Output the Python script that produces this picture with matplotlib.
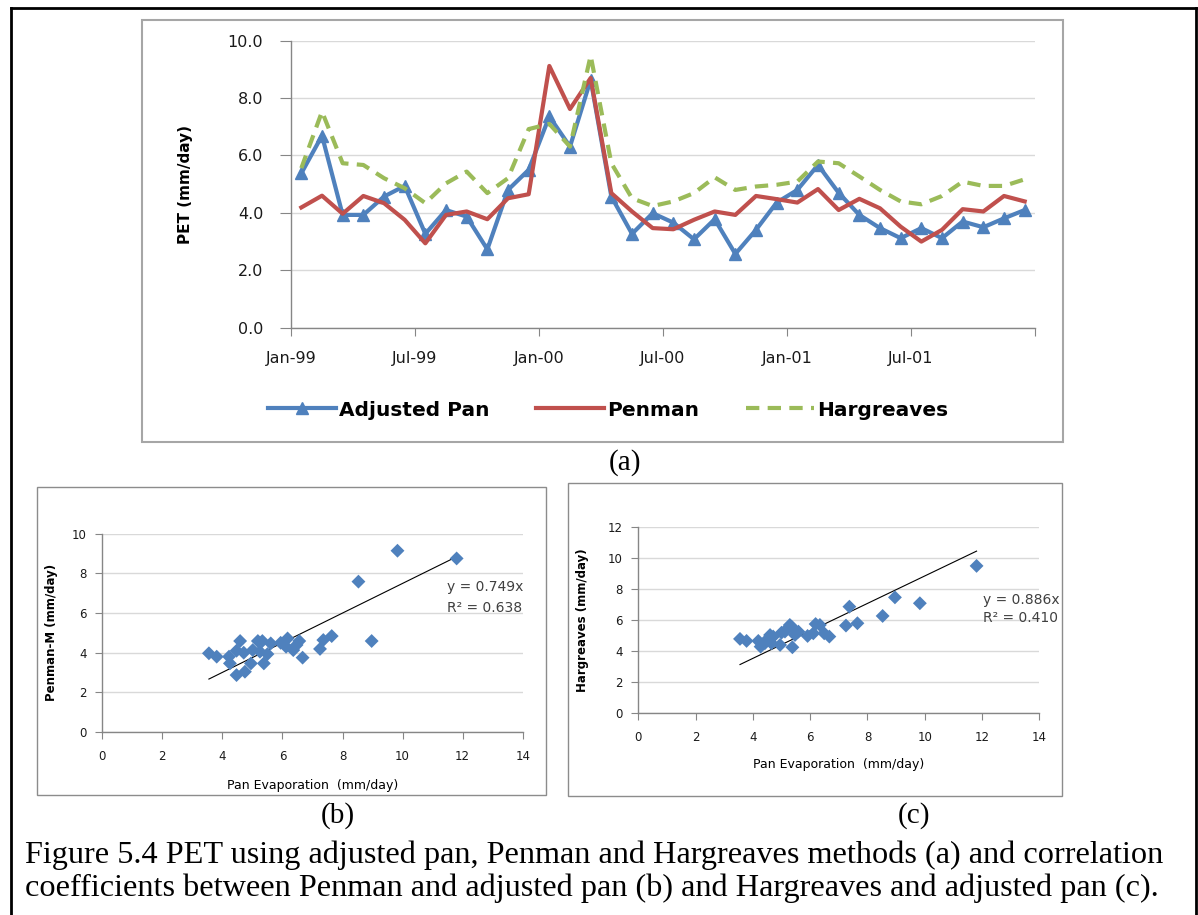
import numpy as np
import matplotlib
matplotlib.use("Agg")
import matplotlib.pyplot as plt
from matplotlib.lines import Line2D
from matplotlib.patches import Rectangle

W, H = 1198, 915

# (a) monthly PET, Jan-1999 .. Dec-2001
month_labels = ["Jan-99", "Jul-99", "Jan-00", "Jul-00", "Jan-01", "Jul-01", ""]
adjusted_pan = [5.38, 6.69, 3.93, 3.93, 4.57, 4.94, 3.27, 4.10, 3.87, 2.73, 4.80, 5.50,
                7.36, 6.31, 8.64, 4.57, 3.27, 3.99, 3.66, 3.08, 3.78, 2.57, 3.41, 4.36,
                4.80, 5.67, 4.70, 3.93, 3.47, 3.12, 3.47, 3.12, 3.70, 3.50, 3.81, 4.10]
penman = [4.19, 4.60, 3.97, 4.59, 4.34, 3.76, 2.94, 3.93, 4.05, 3.78, 4.51, 4.65,
          9.12, 7.62, 8.70, 4.69, 4.05, 3.47, 3.43, 3.76, 4.05, 3.93, 4.59, 4.48,
          4.36, 4.83, 4.10, 4.49, 4.16, 3.52, 3.00, 3.41, 4.13, 4.05, 4.59, 4.40]
hargreaves = [5.56, 7.53, 5.73, 5.67, 5.21, 4.86, 4.34, 5.03, 5.44, 4.69, 5.21, 6.92,
              7.10, 6.31, 9.48, 5.73, 4.51, 4.24, 4.40, 4.69, 5.24, 4.80, 4.92, 4.98,
              5.09, 5.79, 5.73, 5.27, 4.80, 4.40, 4.30, 4.59, 5.09, 4.94, 4.94, 5.17]

# (b) pan evaporation vs Penman-M
pan_b = [3.55, 3.81, 4.22, 4.25, 4.47, 4.47, 4.59, 4.75, 4.71, 4.95, 5.01, 5.18, 5.25,
         5.33, 5.38, 5.50, 5.61, 5.94, 6.12, 6.17, 6.36, 6.47, 6.56, 6.67, 7.25, 7.36,
         7.64, 8.53, 8.97, 9.83, 11.80]
penman_b = [3.96, 3.79, 3.79, 3.45, 2.86, 4.09, 4.58, 3.03, 3.99, 3.45, 4.12, 4.58, 4.04,
            4.58, 3.45, 3.92, 4.46, 4.49, 4.29, 4.71, 4.12, 4.38, 4.58, 3.74, 4.18, 4.63,
            4.83, 7.58, 4.58, 9.14, 8.75]
slope_b, r2_b = 0.749, 0.638

# (c) pan evaporation vs Hargreaves
pan_c = [3.55, 3.78, 4.19, 4.27, 4.42, 4.54, 4.60, 4.65, 4.71, 4.95, 5.00, 5.12, 5.21,
         5.29, 5.38, 5.35, 5.47, 5.59, 5.91, 6.11, 6.19, 6.34, 6.49, 6.67, 7.25, 7.37,
         7.65, 8.53, 8.96, 9.83, 11.81]
harg_c = [4.80, 4.67, 4.67, 4.30, 4.52, 4.84, 5.05, 4.52, 4.95, 4.41, 5.20, 5.27, 5.48,
          5.70, 4.26, 5.59, 5.05, 5.27, 4.99, 5.16, 5.76, 5.70, 5.16, 4.95, 5.66, 6.88,
          5.81, 6.28, 7.48, 7.10, 9.51]
slope_c, r2_c = 0.886, 0.410

BLUE, RED, GREEN = "#4F81BD", "#C0504D", "#9BBB59"
AXIS_GRAY = "#868686"
GRID_GRAY = "#D9D9D9"


def rect(x0, y0, x1, y1):
    # pixel box (top-left origin) -> figure fraction rect
    return [x0 / W, 1 - y1 / H, (x1 - x0) / W, (y1 - y0) / H]


def box(fig, x0, y0, x1, y1, color, lw):
    fig.add_artist(Rectangle((x0 / W, 1 - y1 / H), (x1 - x0) / W, (y1 - y0) / H,
                             transform=fig.transFigure, fill=False,
                             edgecolor=color, linewidth=lw))


def style_axes(ax):
    for side in ["top", "right"]:
        ax.spines[side].set_visible(False)
    for side in ["left", "bottom"]:
        ax.spines[side].set_color(AXIS_GRAY)
        ax.spines[side].set_linewidth(1.0)
    ax.yaxis.grid(True, color=GRID_GRAY, linewidth=1.0)
    ax.set_axisbelow(True)
    ax.tick_params(colors=AXIS_GRAY, labelcolor="#1a1a1a")


fig = plt.figure(figsize=(W / 100, H / 100), dpi=100)

# outer page border (open at the bottom)
for xs, ys in [([11, 11], [8, H]), ([11, 1196], [8, 8]), ([1196, 1196], [8, H])]:
    fig.add_artist(Line2D([x / W for x in xs], [1 - y / H for y in ys],
                          transform=fig.transFigure, color="black", linewidth=2.0))

# ---------- (a) time series ----------
box(fig, 142, 20, 1063, 442, "#A6A6A6", 1.5)
ax = fig.add_axes(rect(291, 40.7, 1035, 327.7))
months = np.arange(len(adjusted_pan))
ax.plot(months, adjusted_pan, color=BLUE, linewidth=3, marker="^", markersize=8,
        label="Adjusted Pan")
ax.plot(months, penman, color=RED, linewidth=3, label="Penman")
ax.plot(months, hargreaves, color=GREEN, linewidth=3, linestyle=(0, (3.2, 2.0)),
        label="Hargreaves")
ax.set_xlim(-0.5, 35.5)
ax.set_ylim(0, 10)
ax.set_xticks(np.arange(-0.5, 36, 6))
ax.set_xticklabels(month_labels)
ax.set_yticks(np.arange(0, 10.1, 2))
ax.set_yticklabels([f"{v:.1f}" for v in np.arange(0, 10.1, 2)])
style_axes(ax)
ax.tick_params(axis="y", length=8, pad=12, labelsize=11.5)
ax.tick_params(axis="x", length=6, pad=11, labelsize=11.5)
ax.set_ylabel("PET (mm/day)", fontsize=11, fontweight="bold")
ax.yaxis.set_label_coords(-0.132, 0.5)
fig.legend(loc="center", bbox_to_anchor=(608 / W, 1 - 410 / H), ncol=3,
           frameon=False, handlelength=3.4, handletextpad=0.15, columnspacing=2.3,
           prop={"weight": "bold", "size": 14.5})
fig.text(625 / W, 1 - 463 / H, "(a)", ha="center", va="center",
         family="Liberation Serif", fontsize=21)

# ---------- (b) and (c) scatter plots ----------
panels = [
    dict(box=(37, 487, 546, 795), area=(102.3, 533.7, 522.7, 731.7), x=pan_b, y=penman_b,
         slope=slope_b, r2=r2_b, ymax=10, ylabel="Penman-M (mm/day)",
         eq=(447, 587, 608), tag=(338, 816), label="(b)"),
    dict(box=(568, 483, 1062, 796), area=(638.3, 527.3, 1039.3, 713.3), x=pan_c, y=harg_c,
         slope=slope_c, r2=r2_c, ymax=12, ylabel="Hargreaves (mm/day)",
         eq=(983, 600, 618), tag=(914, 816), label="(c)"),
]
for p in panels:
    box(fig, *p["box"], "#8C8C8C", 1.0)
    sx = fig.add_axes(rect(*p["area"]))
    sx.scatter(p["x"], p["y"], marker="D", s=50, color=BLUE, edgecolors="none", zorder=3)
    fit_x = np.array([min(p["x"]), max(p["x"])])
    sx.plot(fit_x, p["slope"] * fit_x, color="black", linewidth=0.8, zorder=2)
    sx.set_xlim(0, 14)
    sx.set_ylim(0, p["ymax"])
    sx.set_xticks(np.arange(0, 15, 2))
    sx.set_yticks(np.arange(0, p["ymax"] + 1, 2))
    style_axes(sx)
    sx.tick_params(axis="y", length=5, pad=6, labelsize=8.5)
    sx.tick_params(axis="x", length=5, pad=8, labelsize=8.5)
    sx.set_xlabel("Pan Evaporation  (mm/day)", fontsize=9)
    sx.xaxis.set_label_coords(0.5, -0.24)
    sx.set_ylabel(p["ylabel"], fontsize=8.5, fontweight="bold")
    sx.yaxis.set_label_coords((p["box"][0] + 21 - p["area"][0]) / (p["area"][2] - p["area"][0]), 0.5)
    ex, ey1, ey2 = p["eq"]
    fig.text(ex / W, 1 - ey1 / H, f"y = {p['slope']:.3f}x", ha="left", va="center",
             fontsize=10, color="#404040")
    fig.text(ex / W, 1 - ey2 / H, f"R\u00b2 = {p['r2']:.3f}", ha="left", va="center",
             fontsize=10, color="#404040")
    fig.text(p["tag"][0] / W, 1 - p["tag"][1] / H, p["label"], ha="center", va="center",
             family="Liberation Serif", fontsize=21)

caption = ["Figure 5.4 PET using adjusted pan, Penman and Hargreaves methods (a) and correlation",
           "coefficients between Penman and adjusted pan (b) and Hargreaves and adjusted pan (c)."]
for line, y in zip(caption, [855, 888]):
    fig.text(25 / W, 1 - y / H, line, ha="left", va="center",
             family="Liberation Serif", fontsize=23.2)

fig.savefig("out.png", dpi=100)
